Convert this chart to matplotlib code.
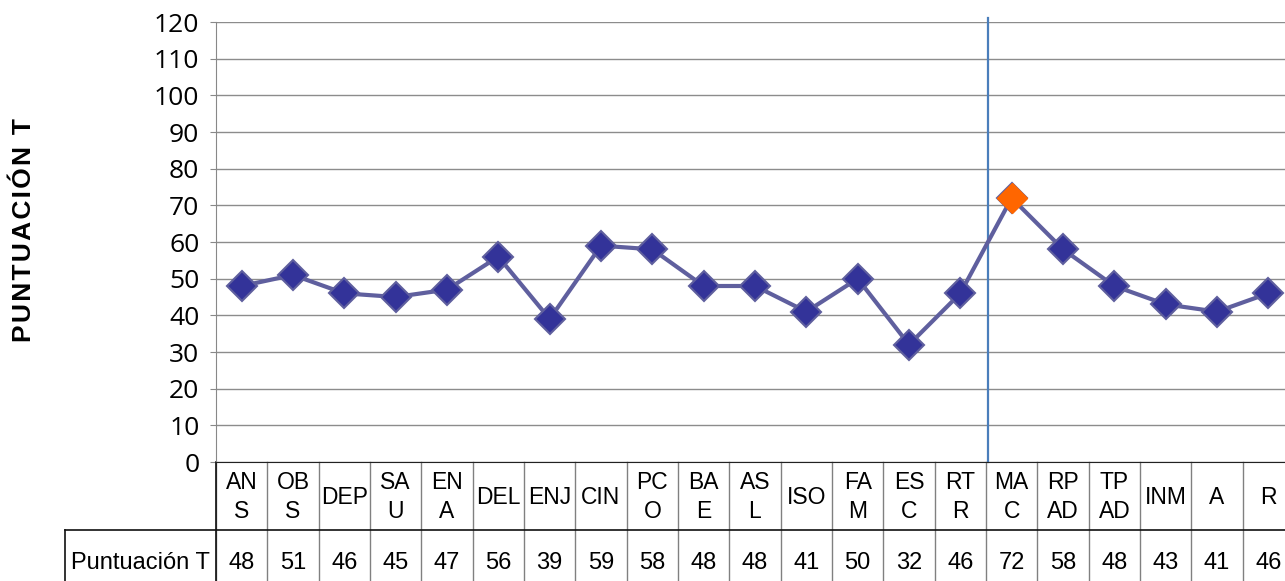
import matplotlib
matplotlib.use("Agg")
import matplotlib.pyplot as plt
from matplotlib.lines import Line2D
from matplotlib.transforms import blended_transform_factory

# datos
categorias = ["AN\nS", "OB\nS", "DEP", "SA\nU", "EN\nA", "DEL", "ENJ", "CIN", "PC\nO",
              "BA\nE", "AS\nL", "ISO", "FA\nM", "ES\nC", "RT\nR", "MA\nC", "RP\nAD",
              "TP\nAD", "INM", "A", "R"]
puntuacion_t = [48, 51, 46, 45, 47, 56, 39, 59, 58, 48, 48, 41, 50, 32, 46, 72, 58, 48, 43, 41, 46]
destacado = 15  # MAC
yticks = list(range(0, 121, 10))

W, H = 1285, 581
fig = plt.figure(figsize=(W / 100, H / 100), dpi=100)
ax = fig.add_axes([216 / W, (H - 462) / H, 1078 / W, 440 / H])

x = list(range(len(puntuacion_t)))
ax.plot(x, puntuacion_t, color="#5F5F9E", lw=3, marker="D", markersize=15,
        markerfacecolor="#333399", markeredgecolor="#5F5F9E", markeredgewidth=1.5,
        zorder=3)
ax.plot([destacado], [puntuacion_t[destacado]], ls="none", marker="D", markersize=15,
        markerfacecolor="#FF6600", markeredgecolor="#FF6600", zorder=4)

ax.axvline(14.53, ymin=0, ymax=1.01, color="#4A7EBB", lw=1.6, clip_on=False, zorder=2)

ax.set_xlim(-0.5, len(x) - 0.5)
ax.set_ylim(0, 120)
ax.set_yticks(yticks)
ax.set_xticks([])
ax.tick_params(axis="y", length=4, color="#888888", labelsize=19, pad=8)
for lab in ax.get_yticklabels():
    lab.set_fontfamily("Open Sans")
ax.grid(axis="y", color="#8C8C8C", lw=1)
ax.set_axisbelow(True)
for s in ["top", "right"]:
    ax.spines[s].set_visible(False)
ax.spines["left"].set_color("#888888")
ax.spines["bottom"].set_color("#222222")

etiqueta = "\u200a".join("PUNTUACIÓN T")
fig.text(24 / W, 1 - 230 / H, etiqueta, rotation=90, ha="center", va="center",
         fontsize=19, fontweight="bold", family=["Liberation Sans", "DejaVu Sans"])

# tabla de datos
tr = blended_transform_factory(ax.transData, ax.transAxes)
ya = lambda px: (462 - px) / 440.0
fila = ya(530)
fondo = ya(600)
for k in range(len(x) + 1):
    ax.add_line(Line2D([k - 0.5, k - 0.5], [0, fondo], transform=tr, color="#808080",
                       lw=1, clip_on=False))
ax.add_line(Line2D([(65 - 216) / 1078, 1.0], [fila, fila], transform=ax.transAxes,
                   color="#111111", lw=1.2, clip_on=False))
ax.add_line(Line2D([(65 - 216) / 1078] * 2, [fila, fondo], transform=ax.transAxes,
                   color="#111111", lw=1.2, clip_on=False))
ax.add_line(Line2D([0, 0], [0, fondo], transform=ax.transAxes,
                   color="#111111", lw=1.2, clip_on=False))

for i, (c, v) in enumerate(zip(categorias, puntuacion_t)):
    ax.text(i, ya(497), c, transform=tr, ha="center", va="center", fontsize=16.5,
            family="Liberation Sans", linespacing=1.3, clip_on=False)
    ax.text(i, ya(563), str(v), transform=tr, ha="center", va="center", fontsize=17,
            family="Liberation Sans", clip_on=False)
ax.text((140 - 216) / 1078, ya(563), "Puntuación T", transform=ax.transAxes,
        ha="center", va="center", fontsize=17, family="Liberation Sans")

fig.savefig("out.png", dpi=100)
